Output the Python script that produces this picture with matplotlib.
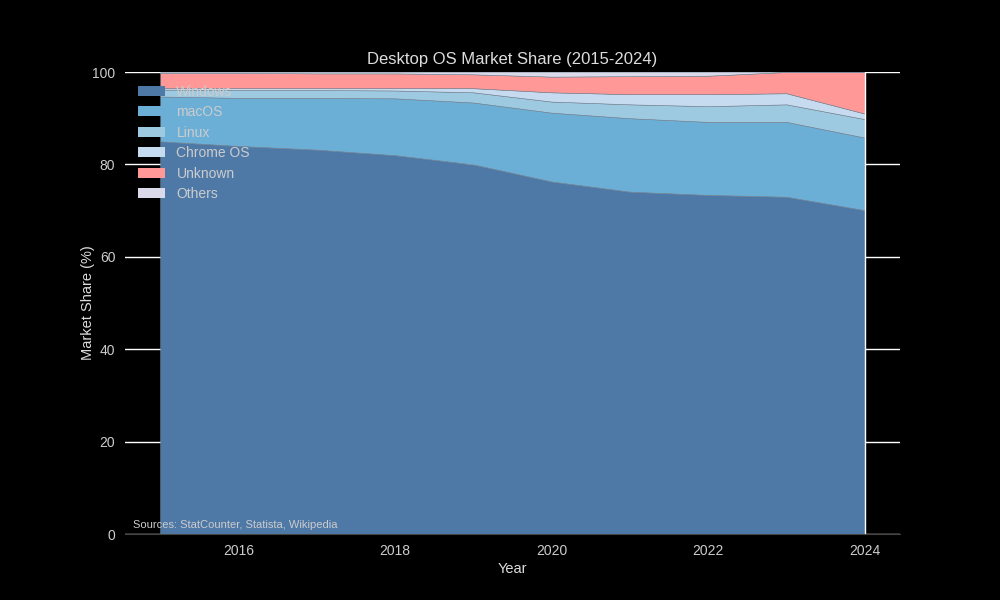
import matplotlib
matplotlib.use("Agg")
import matplotlib.pyplot as plt

plt.rcParams['font.family'] = ['Liberation Sans', 'DejaVu Sans']

years = [2015, 2016, 2017, 2018, 2019, 2020, 2021, 2022, 2023, 2024]
windows = [85.0, 84.0, 83.2, 82.0, 80.0, 76.3, 74.1, 73.4, 73.0, 70.1]
macos = [9.7, 10.4, 11.2, 12.3, 13.4, 14.9, 15.9, 15.8, 16.2, 15.7]
linux = [1.5, 1.7, 1.7, 1.7, 2.2, 2.4, 3.0, 3.4, 3.8, 4.0]
chrome_os = [0.3, 0.4, 0.4, 0.5, 0.9, 2.0, 2.2, 2.6, 2.4, 1.2]
unknown = [3.3, 3.3, 3.2, 3.2, 3.0, 3.4, 3.9, 4.0, 4.6, 9.0]
others = [0.2, 0.2, 0.3, 0.3, 0.5, 1.0, 0.9, 0.8, 0.0, 0.0]

labels = ['Windows', 'macOS', 'Linux', 'Chrome OS', 'Unknown', 'Others']
colors = ['#4e79a7', '#6baed6', '#9ecae1', '#c6dbef', '#ff9896', '#dadaeb']
yticks = [0, 20, 40, 60, 80, 100]
xticks = [2016, 2018, 2020, 2022, 2024]

fig = plt.figure(figsize=(10, 6), dpi=100, facecolor='black')
ax = fig.add_subplot(111)
ax.set_facecolor('black')

ax.set_axisbelow(True)
ax.grid(axis='y', color='white', linewidth=1)
polys = ax.stackplot(years, windows, macos, linux, chrome_os, unknown, others,
                     labels=labels, colors=colors, linewidth=0.4, edgecolor='#7a8a9a', zorder=2)
ax.axvline(years[-1], color='white', linewidth=1, zorder=3)

ax.set_xlim(2014.55, 2024.45)
ax.set_ylim(0, 100)
ax.set_xticks(xticks)
ax.set_yticks(yticks)
ax.tick_params(colors='#cccccc', length=0, labelsize=10, pad=7)
for s in ['left', 'right', 'top']:
    ax.spines[s].set_visible(False)
ax.spines['bottom'].set_color('#444444')

ax.set_title('Desktop OS Market Share (2015-2024)', color='#dddddd', fontsize=12, pad=6)
ax.set_xlabel('Year', color='#dddddd', fontsize=10.5, labelpad=3)
ax.set_ylabel('Market Share (%)', color='#dddddd', fontsize=10.5, labelpad=-2)

handles = [plt.Rectangle((0, 0), 1, 1, facecolor=c, edgecolor='none') for c in colors]
leg = ax.legend(handles, labels, loc='upper left', frameon=False, fontsize=10,
                labelcolor='#cccccc', handlelength=2.0, labelspacing=0.47)
ax.text(0.01, 0.012, 'Sources: StatCounter, Statista, Wikipedia', transform=ax.transAxes,
        color='#cccccc', fontsize=8, zorder=5)

fig.savefig('out.png', dpi=100, facecolor='black')
